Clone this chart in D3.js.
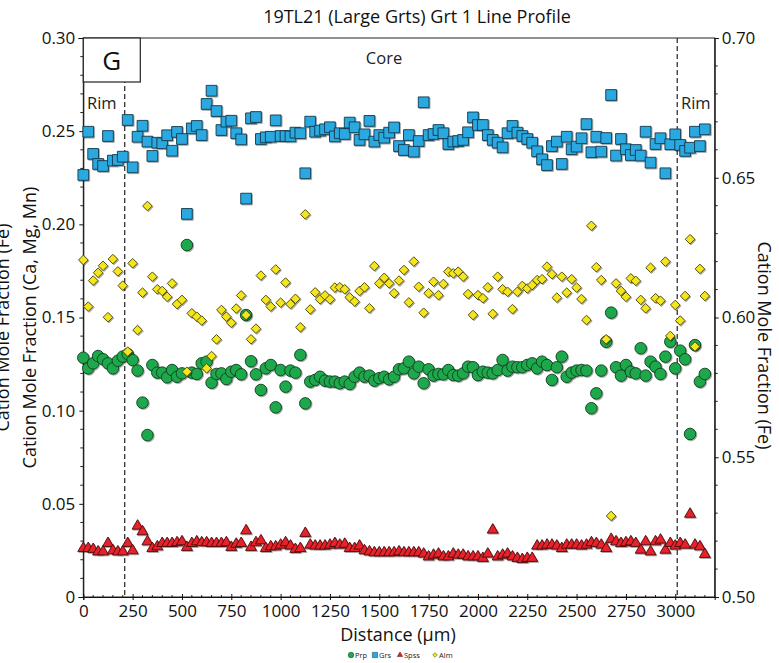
<!DOCTYPE html>
<html>
<head>
<meta charset="utf-8">
<script src="https://cdn.jsdelivr.net/npm/d3@7"></script>
<style>
  html, body { margin: 0; padding: 0; background: #fff; }
  svg { display: block; font-family: "Open Sans", "DejaVu Sans", sans-serif; }
</style>
</head>
<body>
<svg id="chart" width="779" height="663"></svg>
<script>
// Garnet line profile: distance along traverse (µm)
const distance = [
  0, 25, 50, 75, 100, 125, 150, 175, 200, 225, 250, 275, 300, 325, 350, 375, 400, 425, 450, 475,
  500, 525, 550, 575, 600, 625, 650, 675, 700, 725, 750, 775, 800, 825, 850, 875, 900, 925, 950, 975,
  1000, 1025, 1050, 1075, 1100, 1125, 1150, 1175, 1200, 1225, 1250, 1275, 1300, 1325, 1350, 1375, 1400, 1425, 1450, 1475,
  1500, 1525, 1550, 1575, 1600, 1625, 1650, 1675, 1700, 1725, 1750, 1775, 1800, 1825, 1850, 1875, 1900, 1925, 1950, 1975,
  2000, 2025, 2050, 2075, 2100, 2125, 2150, 2175, 2200, 2225, 2250, 2275, 2300, 2325, 2350, 2375, 2400, 2425, 2450, 2475,
  2500, 2525, 2550, 2575, 2600, 2625, 2650, 2675, 2700, 2725, 2750, 2775, 2800, 2825, 2850, 2875, 2900, 2925, 2950, 2975,
  3000, 3025, 3050, 3075, 3100, 3125, 3150
];

// Pyrope (Mg) — left axis
const prp = [
  0.1284, 0.1227, 0.1254, 0.1293, 0.1276, 0.1254, 0.1227, 0.1268, 0.1290, 0.1304,
  0.1272, 0.1215, 0.1043, 0.0869, 0.1245, 0.1204, 0.1204, 0.1179, 0.1218, 0.1182,
  0.1200, 0.1889, 0.1204, 0.1197, 0.1254, 0.1263, 0.1150, 0.1197, 0.1200, 0.1170,
  0.1209, 0.1218, 0.1195, 0.1513, 0.1265, 0.1195, 0.1111, 0.1227, 0.1245, 0.1018,
  0.1218, 0.1129, 0.1215, 0.1204, 0.1299, 0.1039, 0.1156, 0.1165, 0.1182, 0.1161,
  0.1156, 0.1156, 0.1147, 0.1156, 0.1143, 0.1182, 0.1204, 0.1182, 0.1188, 0.1161,
  0.1174, 0.1182, 0.1168, 0.1182, 0.1222, 0.1227, 0.1263, 0.1200, 0.1236, 0.1147,
  0.1222, 0.1188, 0.1197, 0.1195, 0.1218, 0.1191, 0.1188, 0.1200, 0.1236, 0.1233,
  0.1191, 0.1209, 0.1204, 0.1200, 0.1218, 0.1272, 0.1215, 0.1236, 0.1233, 0.1233,
  0.1245, 0.1254, 0.1227, 0.1263, 0.1245, 0.1165, 0.1233, 0.1290, 0.1182, 0.1204,
  0.1215, 0.1218, 0.1215, 0.1013, 0.1093, 0.1215, 0.1370, 0.1526, 0.1233, 0.1188,
  0.1245, 0.1209, 0.1200, 0.1335, 0.1188, 0.1263, 0.1236, 0.1197, 0.1290, 0.1370,
  0.1227, 0.1322, 0.1276, 0.0875, 0.1352, 0.1156, 0.1197
];

// Grossular (Ca) — left axis
const grs = [
  0.2265, 0.2497, 0.2378, 0.2324, 0.2313, 0.2474, 0.2342, 0.2345, 0.2363, 0.2560,
  0.2306, 0.2470, 0.2529, 0.2444, 0.2367, 0.2438, 0.2435, 0.2478, 0.2395, 0.2496,
  0.2458, 0.2056, 0.2515, 0.2528, 0.2479, 0.2646, 0.2717, 0.2608, 0.2506, 0.2551,
  0.2556, 0.2489, 0.2456, 0.2138, 0.2569, 0.2576, 0.2458, 0.2467, 0.2470, 0.2558,
  0.2474, 0.2474, 0.2472, 0.2492, 0.2489, 0.2274, 0.2551, 0.2497, 0.2503, 0.2510,
  0.2521, 0.2472, 0.2489, 0.2485, 0.2546, 0.2521, 0.2453, 0.2483, 0.2555, 0.2444,
  0.2479, 0.2465, 0.2492, 0.2520, 0.2420, 0.2399, 0.2479, 0.2390, 0.2447, 0.2655,
  0.2479, 0.2485, 0.2506, 0.2489, 0.2431, 0.2444, 0.2447, 0.2453, 0.2494, 0.2574,
  0.2533, 0.2533, 0.2479, 0.2453, 0.2438, 0.2413, 0.2489, 0.2528, 0.2492, 0.2474,
  0.2458, 0.2438, 0.2392, 0.2349, 0.2318, 0.2420, 0.2444, 0.2324, 0.2470, 0.2403,
  0.2417, 0.2462, 0.2538, 0.2387, 0.2470, 0.2390, 0.2463, 0.2694, 0.2369, 0.2458,
  0.2403, 0.2372, 0.2399, 0.2369, 0.2497, 0.2331, 0.2431, 0.2462, 0.2274, 0.2430,
  0.2483, 0.2426, 0.2394, 0.2411, 0.2497, 0.2420, 0.2510
];

// Spessartine (Mn) — left axis
const spss = [
  0.0261, 0.0261, 0.0256, 0.0243, 0.0243, 0.0288, 0.0249, 0.0243, 0.0243, 0.0288,
  0.0249, 0.0381, 0.0351, 0.0297, 0.0261, 0.0270, 0.0288, 0.0288, 0.0288, 0.0292,
  0.0297, 0.0267, 0.0288, 0.0297, 0.0292, 0.0292, 0.0288, 0.0288, 0.0288, 0.0292,
  0.0267, 0.0284, 0.0288, 0.0356, 0.0267, 0.0292, 0.0302, 0.0261, 0.0270, 0.0270,
  0.0279, 0.0292, 0.0274, 0.0256, 0.0261, 0.0342, 0.0279, 0.0274, 0.0274, 0.0274,
  0.0279, 0.0288, 0.0279, 0.0284, 0.0261, 0.0261, 0.0274, 0.0249, 0.0243, 0.0238,
  0.0238, 0.0238, 0.0238, 0.0238, 0.0243, 0.0238, 0.0238, 0.0238, 0.0238, 0.0231,
  0.0216, 0.0225, 0.0231, 0.0216, 0.0216, 0.0231, 0.0225, 0.0225, 0.0216, 0.0216,
  0.0216, 0.0208, 0.0231, 0.0360, 0.0216, 0.0225, 0.0231, 0.0216, 0.0208, 0.0202,
  0.0208, 0.0208, 0.0274, 0.0274, 0.0279, 0.0279, 0.0274, 0.0261, 0.0279, 0.0279,
  0.0279, 0.0274, 0.0279, 0.0292, 0.0288, 0.0279, 0.0261, 0.0310, 0.0297, 0.0288,
  0.0292, 0.0297, 0.0288, 0.0252, 0.0297, 0.0243, 0.0297, 0.0306, 0.0252, 0.0288,
  0.0274, 0.0288, 0.0279, 0.0445, 0.0279, 0.0270, 0.0229
];

// Almandine (Fe) — right axis
const alm = [
  0.6206, 0.6039, 0.6132, 0.6160, 0.6185, 0.6001, 0.6209, 0.6165, 0.6114, 0.5878,
  0.6194, 0.5955, 0.6089, 0.6399, 0.6146, 0.6101, 0.6095, 0.6074, 0.6122, 0.6048,
  0.6063, 0.5806, 0.6015, 0.6003, 0.5989, 0.5818, 0.5862, 0.5922, 0.6027, 0.6003,
  0.5981, 0.6032, 0.6079, 0.6009, 0.5922, 0.5960, 0.6150, 0.6063, 0.6039, 0.6172,
  0.6053, 0.6125, 0.6048, 0.6067, 0.5965, 0.6369, 0.6029, 0.6090, 0.6065, 0.6079,
  0.6065, 0.6107, 0.6108, 0.6101, 0.6072, 0.6057, 0.6095, 0.6108, 0.6033, 0.6184,
  0.6122, 0.6142, 0.6122, 0.6087, 0.6132, 0.6170, 0.6054, 0.6200, 0.6110, 0.6017,
  0.6087, 0.6128, 0.6080, 0.6120, 0.6164, 0.6158, 0.6164, 0.6146, 0.6084, 0.6009,
  0.6080, 0.6069, 0.6108, 0.6013, 0.6146, 0.6101, 0.6092, 0.6030, 0.6092, 0.6113,
  0.6104, 0.6116, 0.6134, 0.6137, 0.6182, 0.6155, 0.6071, 0.6146, 0.6089, 0.6137,
  0.6107, 0.6066, 0.5991, 0.6328, 0.6180, 0.6134, 0.5922, 0.5290, 0.6122, 0.6095,
  0.6074, 0.6140, 0.6131, 0.6063, 0.6033, 0.6178, 0.6069, 0.6060, 0.6200, 0.5934,
  0.6045, 0.5989, 0.6077, 0.6280, 0.5896, 0.6174, 0.6077
];

const leftTicks = [0, 0.05, 0.10, 0.15, 0.20, 0.25, 0.30];
const rightTicks = [0.50, 0.55, 0.60, 0.65, 0.70];
const xTicks = [0, 250, 500, 750, 1000, 1250, 1500, 1750, 2000, 2250, 2500, 2750, 3000];
const rimBoundaries = [210, 3010];

const svg = d3.select("#chart");
const plot = { left: 83.3, right: 714.7, top: 38, bottom: 597 };

const x = d3.scaleLinear().domain([0, 3200]).range([plot.left, plot.right]);
const yL = d3.scaleLinear().domain([0, 0.30]).range([plot.bottom, plot.top]);
const yR = d3.scaleLinear().domain([0.50, 0.70]).range([plot.bottom, plot.top]);

// soft marker shadow
const defs = svg.append("defs");
const f = defs.append("filter").attr("id", "shadow")
  .attr("x", "-50%").attr("y", "-50%").attr("width", "200%").attr("height", "200%");
f.append("feDropShadow").attr("dx", 1).attr("dy", 1).attr("stdDeviation", 0.7)
  .attr("flood-color", "#000").attr("flood-opacity", 0.35);

// frame
svg.append("rect")
  .attr("x", plot.left).attr("y", plot.top)
  .attr("width", plot.right - plot.left).attr("height", plot.bottom - plot.top)
  .attr("fill", "none").attr("stroke", "#222").attr("stroke-width", 1);

const fmtL = v => v === 0 ? "0" : d3.format(".2f")(v);
const fmtR = d3.format(".2f");

// left axis
const axL = d3.axisLeft(yL).tickValues(leftTicks).tickFormat(fmtL).tickSize(5).tickPadding(3);
const gL = svg.append("g").attr("transform", `translate(${plot.left},0)`).call(axL);
gL.selectAll(".tick line").attr("x2", -4).attr("x1", 0);
const minorL = d3.range(0, 0.3001, 0.01).filter(v => !leftTicks.some(t => Math.abs(t - v) < 1e-6));
gL.selectAll(".minor").data(minorL).enter().append("line")
  .attr("x1", 0).attr("x2", -3).attr("y1", d => yL(d)).attr("y2", d => yL(d))
  .attr("stroke", "#222");

// right axis
const axR = d3.axisRight(yR).tickValues(rightTicks).tickFormat(fmtR).tickSize(4).tickPadding(3);
const gR = svg.append("g").attr("transform", `translate(${plot.right},0)`).call(axR);
const minorR = d3.range(0.5, 0.7001, 0.01).filter(v => !rightTicks.some(t => Math.abs(t - v) < 1e-6));
gR.selectAll(".minor").data(minorR).enter().append("line")
  .attr("x1", 0).attr("x2", 3).attr("y1", d => yR(d)).attr("y2", d => yR(d))
  .attr("stroke", "#222");

// bottom axis
const axB = d3.axisBottom(x).tickValues(xTicks).tickFormat(d3.format("d")).tickSize(3).tickPadding(5);
const gB = svg.append("g").attr("transform", `translate(0,${plot.bottom})`).call(axB);
gB.selectAll(".tick line").attr("y1", -3).attr("y2", 3);
const minorB = d3.range(0, 3201, 50).filter(v => v % 250 !== 0);
gB.selectAll(".minor").data(minorB).enter().append("line")
  .attr("x1", d => x(d)).attr("x2", d => x(d)).attr("y1", 0).attr("y2", -2)
  .attr("stroke", "#222");

[gL, gR, gB].forEach(g => {
  g.select(".domain").attr("stroke", "#111");
  g.selectAll(".tick line").attr("stroke", "#111");
  g.selectAll(".tick text").attr("font-size", 17).attr("fill", "#111")
    .attr("font-family", "'Open Sans', sans-serif");
});

// rim / core boundaries
svg.selectAll(".rim").data(rimBoundaries).enter().append("line")
  .attr("x1", d => x(d)).attr("x2", d => x(d))
  .attr("y1", plot.top).attr("y2", plot.bottom)
  .attr("stroke", "#222").attr("stroke-width", 1.2).attr("stroke-dasharray", "5,3");

// panel label
svg.append("rect").attr("x", plot.left).attr("y", plot.top)
  .attr("width", 57).attr("height", 44)
  .attr("fill", "#fff").attr("stroke", "#222").attr("stroke-width", 1.2);
svg.append("text").attr("x", plot.left + 28.5).attr("y", plot.top + 32)
  .attr("text-anchor", "middle").attr("font-size", 26).attr("fill", "#111").text("G");

svg.append("text").attr("x", 87).attr("y", 109).attr("font-size", 16.5).attr("fill", "#222").text("Rim");
svg.append("text").attr("x", 681).attr("y", 109).attr("font-size", 16.5).attr("fill", "#222").text("Rim");
svg.append("text").attr("x", 384).attr("y", 64).attr("text-anchor", "middle")
  .attr("font-size", 16.5).attr("fill", "#222").text("Core");

// title and axis titles
svg.append("text").attr("x", 417).attr("y", 23).attr("text-anchor", "middle")
  .attr("font-size", 18).attr("fill", "#111").text("19TL21 (Large Grts) Grt 1 Line Profile");
svg.append("text").attr("x", 398).attr("y", 641).attr("text-anchor", "middle")
  .attr("font-size", 18).attr("fill", "#111").text("Distance (µm)");
svg.append("text").attr("transform", `translate(36,${(plot.top + plot.bottom) / 2 + 10}) rotate(-90)`)
  .attr("text-anchor", "middle").attr("font-size", 18).attr("fill", "#111")
  .text("Cation Mole Fraction (Ca, Mg, Mn)");
svg.append("text").attr("transform", `translate(9,${(plot.top + plot.bottom) / 2 + 10}) rotate(-90)`)
  .attr("text-anchor", "middle").attr("font-size", 18).attr("fill", "#111")
  .text("Cation Mole Fraction (Fe)");
svg.append("text").attr("transform", `translate(758,${(plot.top + plot.bottom) / 2 + 28}) rotate(90)`)
  .attr("text-anchor", "middle").attr("font-size", 18).attr("fill", "#111")
  .text("Cation Mole Fraction (Fe)");

// markers
const series = [
  { name: "Prp", values: prp, y: yL, shape: d3.symbolCircle, size: 105, rot: 0, fill: "#1fa84c", stroke: "#0f3d1e" },
  { name: "Grs", values: grs, y: yL, shape: d3.symbolSquare, size: 115, rot: 0, fill: "#2aa8e0", stroke: "#12384a" },
  { name: "Spss", values: spss, y: yL, shape: d3.symbolTriangle, size: 52, rot: 0, fill: "#e8202a", stroke: "#4a0a0c" },
  { name: "Alm", values: alm, y: yR, shape: d3.symbolSquare, size: 46, rot: 45, fill: "#f4e51c", stroke: "#4d4a10" }
];

series.forEach(s => {
  const sym = d3.symbol().type(s.shape).size(s.size);
  svg.append("g").attr("filter", "url(#shadow)")
    .selectAll("path").data(distance.map((d, i) => [d, s.values[i]])).enter().append("path")
    .attr("d", sym)
    .attr("transform", d => `translate(${x(d[0])},${s.y(d[1])}) rotate(${s.rot})`)
    .attr("fill", s.fill).attr("stroke", s.stroke).attr("stroke-width", 0.9);
});

// legend
const legendItems = [
  { label: "Prp", s: series[0], x: 351 },
  { label: "Grs", s: series[1], x: 375 },
  { label: "Spss", s: series[2], x: 400 },
  { label: "Alm", s: series[3], x: 435 }
];
const lg = svg.append("g");
legendItems.forEach(it => {
  lg.append("path")
    .attr("d", d3.symbol().type(it.s.shape).size(it.s.size * 0.24))
    .attr("transform", `translate(${it.x},655) rotate(${it.s.rot})`)
    .attr("fill", it.s.fill).attr("stroke", it.s.stroke).attr("stroke-width", 0.5);
  lg.append("text").attr("x", it.x + 4).attr("y", 657.5)
    .attr("font-size", 7.5).attr("fill", "#222").text(it.label);
});
</script>
</body>
</html>
